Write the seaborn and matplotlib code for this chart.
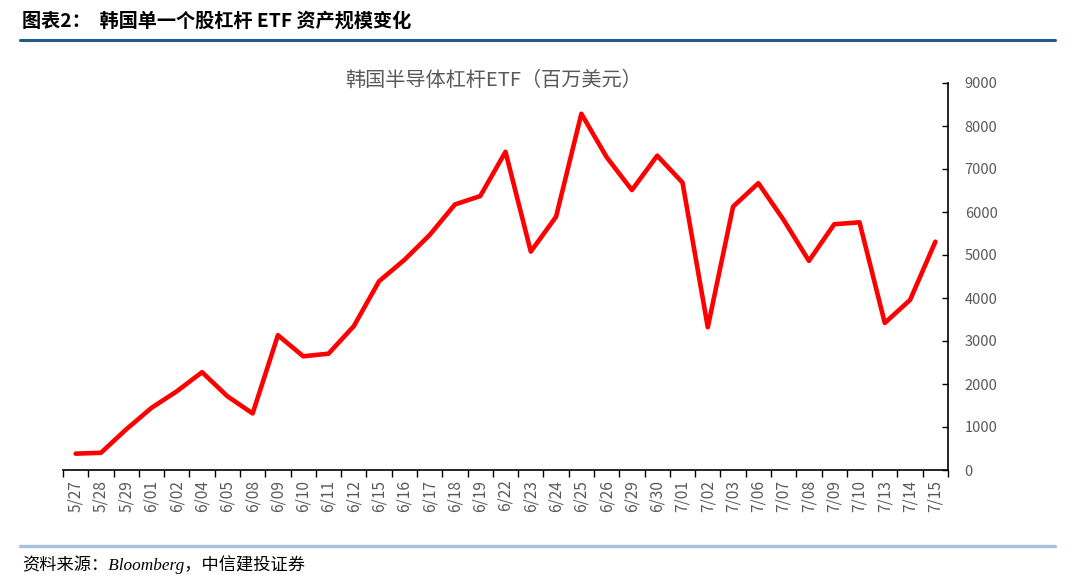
import numpy as np
import pandas as pd
import matplotlib
matplotlib.use("Agg")
import matplotlib.pyplot as plt
from matplotlib.lines import Line2D
import seaborn as sns

# 日期（交易日）
dates = ["5/27", "5/28", "5/29", "6/01", "6/02", "6/04", "6/05", "6/08", "6/09", "6/10",
         "6/11", "6/12", "6/15", "6/16", "6/17", "6/18", "6/19", "6/22", "6/23", "6/24",
         "6/25", "6/26", "6/29", "6/30", "7/01", "7/02", "7/03", "7/06", "7/07", "7/08",
         "7/09", "7/10", "7/13", "7/14", "7/15"]

# 资产规模（百万美元）
aum = [380, 400, 945, 1445, 1830, 2275, 1715, 1315, 3135, 2645,
       2705, 3345, 4390, 4885, 5465, 6175, 6370, 7400, 5080, 5890,
       8285, 7275, 6510, 7310, 6685, 3320, 6125, 6670, 5815, 4865,
       5715, 5760, 3420, 3955, 5310]

y_ticks = [0, 1000, 2000, 3000, 4000, 5000, 6000, 7000, 8000, 9000]

header = "图表2：  韩国单一个股杠杆 ETF 资产规模变化"
chart_title = "韩国半导体杠杆ETF（百万美元）"
source = "资料来源：Bloomberg，中信建投证券"

sns.set_style("white")
plt.rcParams['font.family'] = ['Noto Sans CJK SC', 'DejaVu Sans']
plt.rcParams['axes.unicode_minus'] = False

df = pd.DataFrame({"date": dates, "aum": aum})

fig = plt.figure(figsize=(10.8, 5.88), dpi=100)
ax = fig.add_axes([63 / 1080, 1 - 470 / 588, (948 - 63) / 1080, (470 - 83) / 588])

sns.lineplot(data=df, x="date", y="aum", ax=ax, color="#FF0000", linewidth=3.3, sort=False)

gray = "#595959"
ax.set_xlim(-0.5, len(dates) - 0.5)
ax.set_ylim(0, 9000)
ax.set_xlabel("")
ax.set_ylabel("")

# x 轴：标签居中，刻度在类别之间
ax.set_xticks(range(len(dates)))
ax.set_xticklabels(dates, rotation=90)
ax.set_xticks(np.arange(-0.5, len(dates), 1.0), minor=True)
ax.tick_params(axis="x", which="major", length=0, labelsize=11.2, labelcolor=gray, pad=7)
ax.tick_params(axis="x", which="minor", length=5, width=1, color="black", direction="out", bottom=True)

# y 轴在右侧
ax.yaxis.tick_right()
ax.set_yticks(y_ticks)
ax.tick_params(axis="y", length=4, width=1, color="black", direction="in",
               labelsize=10.5, labelcolor=gray, pad=12, right=True, left=False)

for side in ["left", "top"]:
    ax.spines[side].set_visible(False)
for side in ["right", "bottom"]:
    ax.spines[side].set_color("black")
    ax.spines[side].set_linewidth(1.2)

# 标题
fig.text(494 / 1080, 1 - 80 / 588, chart_title, ha="center", va="center",
         fontsize=14.5, color=gray)

# 表头与分隔线
fig.text(22 / 1080, 1 - 21 / 588, header, ha="left", va="center",
         fontsize=13.8, fontweight="bold", color="black")
fig.add_artist(Line2D([20 / 1080, 1055 / 1080], [1 - 40 / 588, 1 - 40 / 588],
                      transform=fig.transFigure, color="#1F5A8A", linewidth=2.2))
fig.add_artist(Line2D([20 / 1080, 1055 / 1080], [1 - 546 / 588, 1 - 546 / 588],
                      transform=fig.transFigure, color="#A9C0DD", linewidth=2.4))

# 资料来源
fig.text(22 / 1080, 1 - 565 / 588, source, ha="left", va="center",
         fontsize=12.4, style="italic", color="black",
         family=['Liberation Serif', 'Noto Sans CJK SC'])

fig.savefig("out.png", dpi=100)
